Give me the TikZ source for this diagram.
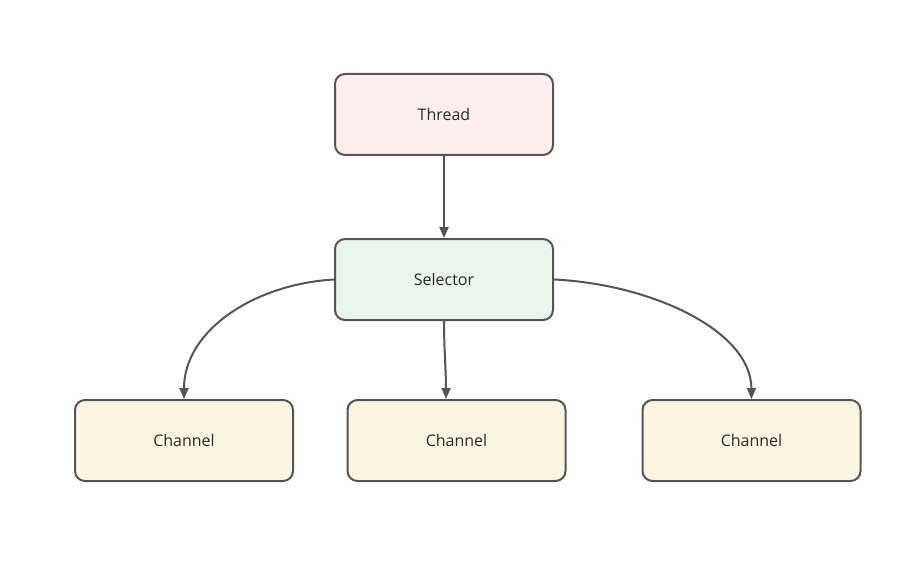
\documentclass[tikz,border=0pt]{standalone}
\usepackage{fontspec}
\setmainfont{Open Sans}
\usetikzlibrary{arrows.meta}
\definecolor{edgegray}{HTML}{555555}
\definecolor{textgray}{HTML}{2B2B2B}
\definecolor{threadfill}{HTML}{FCEEEC}
\definecolor{selectorfill}{HTML}{E8F5E8}
\definecolor{channelfill}{HTML}{FBF4E0}
\begin{document}
\begin{tikzpicture}[x=1pt,y=-1pt,
  box/.style={draw=edgegray, line width=2pt, rounded corners=10pt,
    minimum width=218pt, minimum height=81pt, inner sep=0pt,
    text=textgray, font=\fontsize{16}{19}\selectfont},
  link/.style={draw=edgegray, line width=2pt,
    -{Triangle[length=11pt,width=9pt]}}
]
\useasboundingbox (0,0) rectangle (904,580);
\node[box, fill=threadfill] (thread) at (444,114.5) {Thread};
\node[box, fill=selectorfill] (selector) at (444,279.5) {Selector};
\node[box, fill=channelfill] (ch1) at (184,440.5) {Channel};
\node[box, fill=channelfill] (ch2) at (456.5,440.5) {Channel};
\node[box, fill=channelfill] (ch3) at (751.5,440.5) {Channel};

\draw[link] (thread.south) -- (selector.north);
\draw[link] (selector.west) .. controls (255,284) and (184,330) .. (ch1.north);
\draw[link] (selector.south) .. controls (444,350) and (446,370) .. ([xshift=-10.5pt]ch2.north);
\draw[link] (selector.east) .. controls (650,284) and (751,330) .. (ch3.north);
\end{tikzpicture}
\end{document}
